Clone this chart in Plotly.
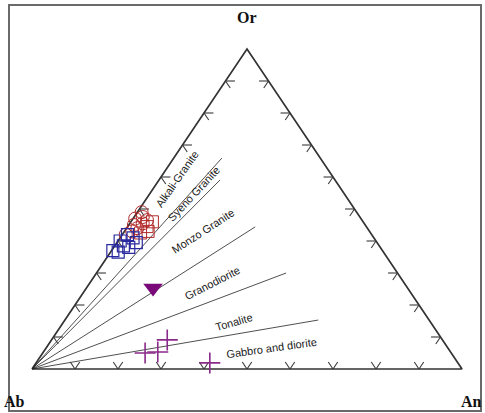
import plotly.graph_objects as go

# ---- Data: feldspar compositions as fractions (Ab + An + Or = 1) ----
# Granite samples (red circles)
granite_or = [0.49, 0.475, 0.47, 0.455, 0.45, 0.44, 0.43, 0.465, 0.42]
granite_an = [0.010, 0.020, 0.005, 0.030, 0.012, 0.025, 0.018, 0.035, 0.008]

# Granite samples (red squares)
granite2_or = [0.445, 0.46, 0.425, 0.43]
granite2_an = [0.045, 0.050, 0.040, 0.055]

# Syenogranite samples (blue squares)
syeno_or = [0.42, 0.41, 0.40, 0.385, 0.38, 0.37, 0.365, 0.395]
syeno_an = [0.012, 0.030, 0.005, 0.020, 0.035, 0.003, 0.018, 0.045]

# Granodiorite sample (purple inverted triangle)
grano_or = [0.253]
grano_an = [0.155]

# Gabbro / diorite samples (purple crosses)
gabbro_or = [0.050, 0.053, 0.091, 0.019]
gabbro_an = [0.238, 0.266, 0.269, 0.404]

# Field boundaries radiating from the Ab apex: end-point compositions
boundary_or = [0.659, 0.591, 0.444, 0.300, 0.153]
boundary_an = [0.112, 0.142, 0.297, 0.441, 0.589]

field_names = ["Alkali-Granite", "Syeno Granite", "Monzo Granite",
               "Granodiorite", "Tonalite", "Gabbro and diorite"]

tick_fracs = [0.1, 0.2, 0.3, 0.4, 0.5, 0.6, 0.7, 0.8, 0.9]


def to_xy(an, orr):
    """Ternary (An, Or) -> planar (x, y) with Ab at the origin."""
    return [a + o / 2 for a, o in zip(an, orr)], list(orr)


fig = go.Figure()

# Triangle outline
tx, ty = to_xy([0, 1, 0, 0], [0, 0, 1, 0])
fig.add_trace(go.Scatter(x=tx, y=ty, mode="lines",
                         line=dict(color="#333333", width=1.7),
                         hoverinfo="skip", showlegend=False))

# Field boundary lines
bx, by = [], []
for o, a in zip(boundary_or, boundary_an):
    px, py = to_xy([0, a], [0, o])
    bx += px + [None]
    by += py + [None]
fig.add_trace(go.Scatter(x=bx, y=by, mode="lines",
                         line=dict(color="#222222", width=0.8),
                         hoverinfo="skip", showlegend=False))

# V-shaped ticks on each edge, arms parallel to the other two edges
t = 0.022
arms = {
    "bottom": [(0, t), (-t, t)],
    "right": [(-t, 0), (0, -t)],
    "left": [(t, 0), (t, -t)],
}
kx, ky = [], []
for f in tick_fracs:
    anchors = {"bottom": (f, 0.0), "right": (1 - f, f), "left": (0.0, f)}
    for edge, (a0, o0) in anchors.items():
        for da, do in arms[edge]:
            px, py = to_xy([a0 + da, a0], [o0 + do, o0])
            kx += px + [None]
            ky += py + [None]
fig.add_trace(go.Scatter(x=kx, y=ky, mode="lines",
                         line=dict(color="#3a3a3a", width=1.1),
                         hoverinfo="skip", showlegend=False))

# Sample markers
x, y = to_xy(granite_an, granite_or)
fig.add_trace(go.Scatter(x=x, y=y, mode="markers", showlegend=False,
                         marker=dict(symbol="circle-open", size=13,
                                     color="#b22a2a", line=dict(width=1))))
x, y = to_xy(granite2_an, granite2_or)
fig.add_trace(go.Scatter(x=x, y=y, mode="markers", showlegend=False,
                         marker=dict(symbol="square-open", size=12,
                                     color="#b22a2a", line=dict(width=1))))
x, y = to_xy(syeno_an, syeno_or)
fig.add_trace(go.Scatter(x=x, y=y, mode="markers", showlegend=False,
                         marker=dict(symbol="square-open", size=12,
                                     color="#2a2aa0", line=dict(width=1.2))))
x, y = to_xy(grano_an, grano_or)
fig.add_trace(go.Scatter(x=x, y=y, mode="markers", showlegend=False,
                         marker=dict(symbol="triangle-down", size=17,
                                     color="#7a0a7a")))
x, y = to_xy(gabbro_an, gabbro_or)
fig.add_trace(go.Scatter(x=x, y=y, mode="markers", showlegend=False,
                         marker=dict(symbol="cross-thin", size=15,
                                     color="#8a2a8a",
                                     line=dict(width=1.6, color="#8a2a8a"))))

# Field labels (position in x/y plane, rotation)
label_pos = [(0.337, 0.594, -55), (0.376, 0.546, -47), (0.398, 0.431, -33),
             (0.419, 0.269, -27), (0.470, 0.147, -16), (0.556, 0.066, -8)]
for name, (lx, ly, ang) in zip(field_names, label_pos):
    fig.add_annotation(x=lx, y=ly, text=name, textangle=ang, showarrow=False,
                       font=dict(family="Liberation Sans, Arial", size=11,
                                 color="#1a1a1a"))

# Apex labels
for name, lx, ly in [("Or", 0.5, 1.097), ("Ab", -0.040, -0.103),
                     ("An", 1.023, -0.103)]:
    fig.add_annotation(x=lx, y=ly, text="<b>" + name + "</b>", showarrow=False,
                       font=dict(family="Liberation Serif, Times New Roman",
                                 size=16, color="#111111"))

# Outer frame
fig.add_shape(type="rect", xref="paper", yref="paper",
              x0=9 / 485, x1=481 / 485, y0=1 - 411 / 413, y1=1 - 5 / 413,
              line=dict(color="#6a6a6a", width=2))

fig.update_layout(
    width=485, height=413,
    margin=dict(l=0, r=0, t=0, b=0),
    paper_bgcolor="white", plot_bgcolor="white",
    xaxis=dict(range=[-32 / 430, 453 / 430], visible=False, fixedrange=True),
    yaxis=dict(range=[-44 / 320, 369 / 320], visible=False, fixedrange=True),
)

fig.write_html("out.html")
